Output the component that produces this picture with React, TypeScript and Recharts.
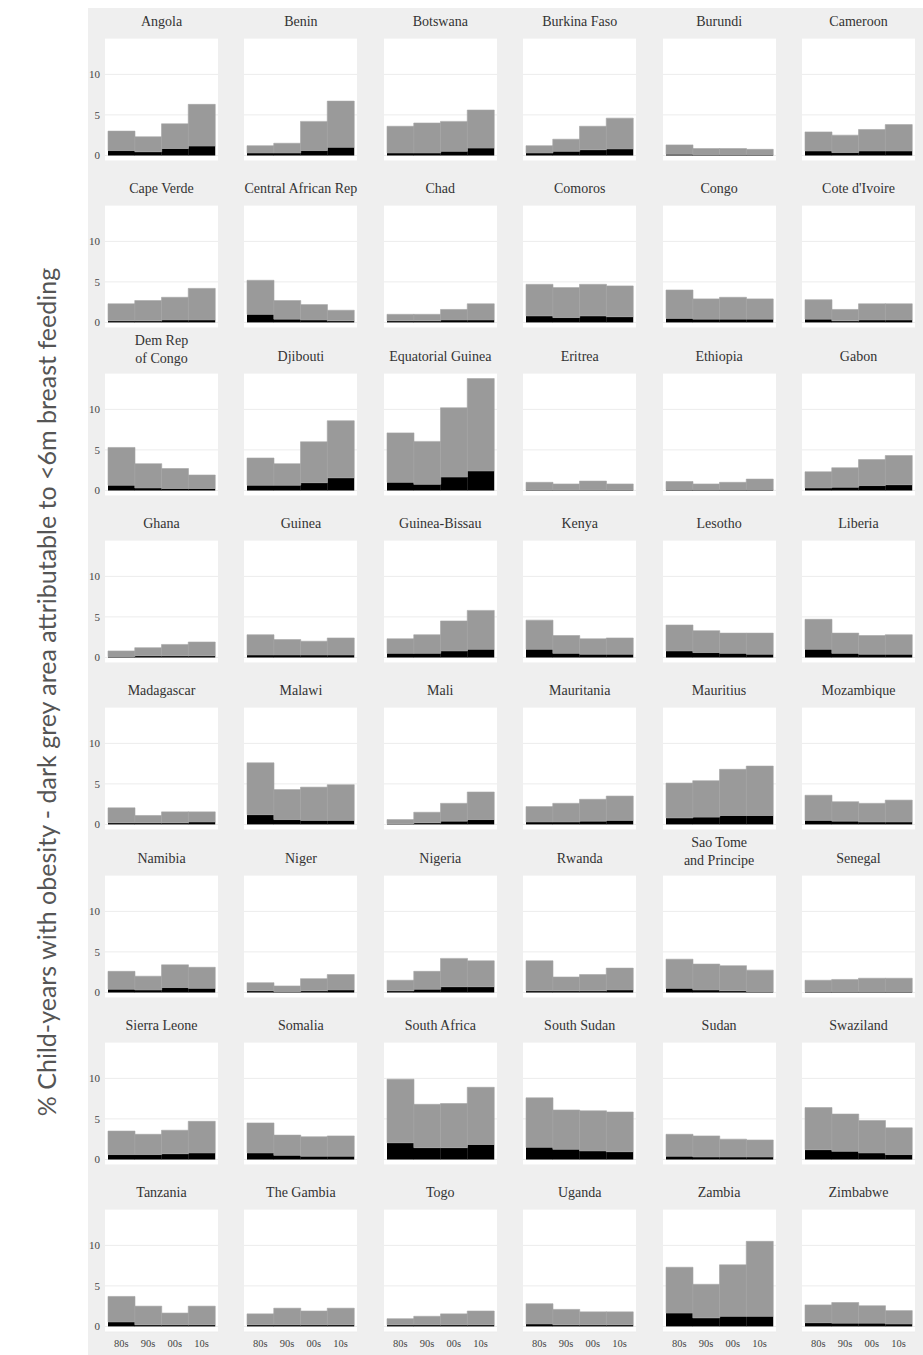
import { BarChart, Bar, XAxis, YAxis, CartesianGrid } from 'recharts'

// decades on the x axis of every panel
const decades = ['80s', '90s', '00s', '10s']

const countries = [
    'Angola', 'Benin', 'Botswana', 'Burkina Faso', 'Burundi', 'Cameroon',
    'Cape Verde', 'Central African Rep', 'Chad', 'Comoros', 'Congo', "Cote d'Ivoire",
    'Dem Rep\nof Congo', 'Djibouti', 'Equatorial Guinea', 'Eritrea', 'Ethiopia', 'Gabon',
    'Ghana', 'Guinea', 'Guinea-Bissau', 'Kenya', 'Lesotho', 'Liberia',
    'Madagascar', 'Malawi', 'Mali', 'Mauritania', 'Mauritius', 'Mozambique',
    'Namibia', 'Niger', 'Nigeria', 'Rwanda', 'Sao Tome\nand Principe', 'Senegal',
    'Sierra Leone', 'Somalia', 'South Africa', 'South Sudan', 'Sudan', 'Swaziland',
    'Tanzania', 'The Gambia', 'Togo', 'Uganda', 'Zambia', 'Zimbabwe',
]

// % child-years with obesity, per decade
const totals = [
    [3.0, 2.3, 3.9, 6.3], [1.2, 1.5, 4.2, 6.7], [3.6, 4.0, 4.2, 5.6], [1.2, 2.0, 3.6, 4.6], [1.3, 0.85, 0.85, 0.75], [2.9, 2.5, 3.2, 3.8],
    [2.3, 2.7, 3.1, 4.2], [5.2, 2.7, 2.2, 1.5], [1.0, 1.0, 1.6, 2.3], [4.7, 4.3, 4.7, 4.5], [4.0, 2.9, 3.1, 2.9], [2.8, 1.6, 2.3, 2.3],
    [5.3, 3.3, 2.7, 1.9], [4.0, 3.3, 6.0, 8.6], [7.1, 6.05, 10.2, 13.8], [1.0, 0.8, 1.15, 0.8], [1.1, 0.8, 1.0, 1.4], [2.3, 2.8, 3.8, 4.3],
    [0.8, 1.2, 1.6, 1.9], [2.8, 2.2, 2.0, 2.4], [2.3, 2.8, 4.5, 5.8], [4.6, 2.7, 2.3, 2.4], [4.0, 3.3, 3.0, 3.0], [4.7, 3.0, 2.7, 2.8],
    [2.05, 1.1, 1.55, 1.55], [7.6, 4.3, 4.6, 4.9], [0.6, 1.5, 2.6, 4.0], [2.2, 2.6, 3.1, 3.5], [5.1, 5.4, 6.8, 7.2], [3.6, 2.8, 2.6, 3.0],
    [2.6, 2.0, 3.4, 3.1], [1.2, 0.8, 1.7, 2.2], [1.5, 2.6, 4.2, 3.9], [3.9, 1.9, 2.2, 3.0], [4.1, 3.5, 3.3, 2.75], [1.5, 1.6, 1.75, 1.75],
    [3.5, 3.1, 3.6, 4.7], [4.5, 3.0, 2.8, 2.9], [9.9, 6.8, 6.9, 8.9], [7.6, 6.1, 6.0, 5.85], [3.1, 2.9, 2.5, 2.4], [6.4, 5.6, 4.8, 3.9],
    [3.7, 2.5, 1.65, 2.5], [1.55, 2.25, 1.9, 2.25], [0.95, 1.25, 1.55, 1.9], [2.8, 2.1, 1.8, 1.8], [7.3, 5.2, 7.6, 10.5], [2.65, 2.95, 2.55, 1.95],
]

// part of the total attributable to <6m breast feeding (dark portion)
const attributable = [
    [0.6, 0.45, 0.85, 1.15], [0.3, 0.3, 0.6, 1.0], [0.3, 0.3, 0.5, 0.9], [0.3, 0.5, 0.7, 0.8], [0.15, 0.1, 0.1, 0.1], [0.55, 0.35, 0.55, 0.55],
    [0.2, 0.2, 0.3, 0.3], [1.0, 0.4, 0.3, 0.2], [0.2, 0.2, 0.3, 0.3], [0.8, 0.6, 0.8, 0.7], [0.5, 0.4, 0.4, 0.4], [0.4, 0.2, 0.3, 0.3],
    [0.65, 0.3, 0.25, 0.25], [0.65, 0.65, 0.95, 1.55], [1.0, 0.75, 1.65, 2.4], [0.05, 0.05, 0.05, 0.05], [0.1, 0.1, 0.1, 0.1], [0.3, 0.4, 0.6, 0.7],
    [0.1, 0.2, 0.2, 0.2], [0.3, 0.3, 0.3, 0.3], [0.5, 0.5, 0.8, 1.0], [1.0, 0.5, 0.4, 0.4], [0.8, 0.6, 0.5, 0.4], [1.0, 0.5, 0.4, 0.4],
    [0.2, 0.2, 0.2, 0.3], [1.2, 0.6, 0.5, 0.5], [0.1, 0.2, 0.4, 0.6], [0.3, 0.3, 0.4, 0.5], [0.8, 0.9, 1.1, 1.1], [0.5, 0.4, 0.3, 0.3],
    [0.4, 0.3, 0.6, 0.5], [0.2, 0.1, 0.2, 0.3], [0.2, 0.4, 0.7, 0.7], [0.2, 0.2, 0.2, 0.3], [0.5, 0.3, 0.2, 0.1], [0.1, 0.1, 0.1, 0.1],
    [0.6, 0.6, 0.7, 0.8], [0.8, 0.5, 0.4, 0.4], [2.05, 1.45, 1.45, 1.85], [1.5, 1.25, 1.05, 0.95], [0.4, 0.3, 0.3, 0.3], [1.2, 1.0, 0.8, 0.6],
    [0.55, 0.2, 0.2, 0.2], [0.2, 0.2, 0.2, 0.2], [0.2, 0.2, 0.2, 0.2], [0.3, 0.2, 0.2, 0.2], [1.65, 1.05, 1.25, 1.25], [0.45, 0.4, 0.4, 0.3],
]

const yTicks = [0, 5, 10]

const FONT = '"Liberation Serif", serif'
const N_COLS = 6
const N_ROWS = 8
const PANEL_X0 = 105
const COL_PITCH = 139.4
const PANEL_W = 113
const PANEL_Y0 = 38
const ROW_PITCH = 167.3
const PANEL_H = 123
const Y_AXIS_W = 24
const X_AXIS_H = 20

function Panel({ index }: { index: number }) {
    const col = index % N_COLS
    const row = Math.floor(index / N_COLS)
    const firstCol = col === 0
    const lastRow = row === N_ROWS - 1

    const chartData = decades.map((decade, i) => ({
        decade,
        attrib: attributable[index][i],
        rest: totals[index][i] - attributable[index][i],
    }))

    const panelLeft = PANEL_X0 + col * COL_PITCH
    const panelTop = PANEL_Y0 + row * ROW_PITCH
    const lines = countries[index].split('\n')

    return (
        <>
            {lines.map((line, i) => (
                <div
                    key={i}
                    style={{
                        position: 'absolute',
                        left: panelLeft - 20,
                        width: PANEL_W + 40,
                        top: panelTop - (lines.length === 1 ? 16 : i === 0 ? 32 : 14) - 9,
                        height: 18,
                        lineHeight: '18px',
                        textAlign: 'center',
                        fontFamily: FONT,
                        fontSize: 14,
                        color: '#333',
                        whiteSpace: 'nowrap',
                    }}
                >
                    {line}
                </div>
            ))}
            <div style={{ position: 'absolute', left: panelLeft - (firstCol ? Y_AXIS_W : 0), top: panelTop }}>
                <BarChart
                    width={PANEL_W + (firstCol ? Y_AXIS_W : 0)}
                    height={PANEL_H + (lastRow ? X_AXIS_H : 0)}
                    data={chartData}
                    margin={{ top: 0, right: 0, bottom: 0, left: 0 }}
                    barCategoryGap={0}
                >
                    <CartesianGrid vertical={false} fill="#ffffff" stroke="#ececec" />
                    <XAxis
                        dataKey="decade"
                        hide={!lastRow}
                        height={X_AXIS_H}
                        axisLine={false}
                        tickLine={false}
                        interval={0}
                        padding={{ left: 3, right: 3 }}
                        tickMargin={2}
                        tick={{ fontFamily: FONT, fontSize: 10.5, fill: '#444' }}
                    />
                    <YAxis
                        type="number"
                        domain={[-0.69, 14.49]}
                        allowDataOverflow
                        ticks={yTicks}
                        interval={0}
                        hide={!firstCol}
                        width={Y_AXIS_W}
                        axisLine={false}
                        tickLine={false}
                        tickSize={4}
                        tickMargin={1}
                        tick={{ fontFamily: FONT, fontSize: 11, fill: '#444' }}
                    />
                    <Bar dataKey="attrib" stackId="a" fill="#000000" isAnimationActive={false} />
                    <Bar dataKey="rest" stackId="a" fill="#9a9a9a" stroke="#a6a6a6" strokeWidth={0.6} isAnimationActive={false} />
                </BarChart>
            </div>
        </>
    )
}

export default function App() {
    return (
        <div style={{ position: 'absolute', left: 0, top: 0, width: 923, height: 1355, background: '#ffffff', overflow: 'hidden' }}>
            <div style={{ position: 'absolute', left: 88, top: 8, width: 835, height: 1347, background: '#efefef' }} />
            <svg width={80} height={1355} style={{ position: 'absolute', left: 0, top: 0 }}>
                <text
                    transform="translate(56, 692) rotate(-90)"
                    textAnchor="middle"
                    fontFamily="Lato, sans-serif"
                    fontSize={25}
                    fill="#555"
                >
                    % Child-years with obesity - dark grey area attributable to &lt;6m breast feeding
                </text>
            </svg>
            {countries.map((_, i) => (
                <Panel key={i} index={i} />
            ))}
        </div>
    )
}
